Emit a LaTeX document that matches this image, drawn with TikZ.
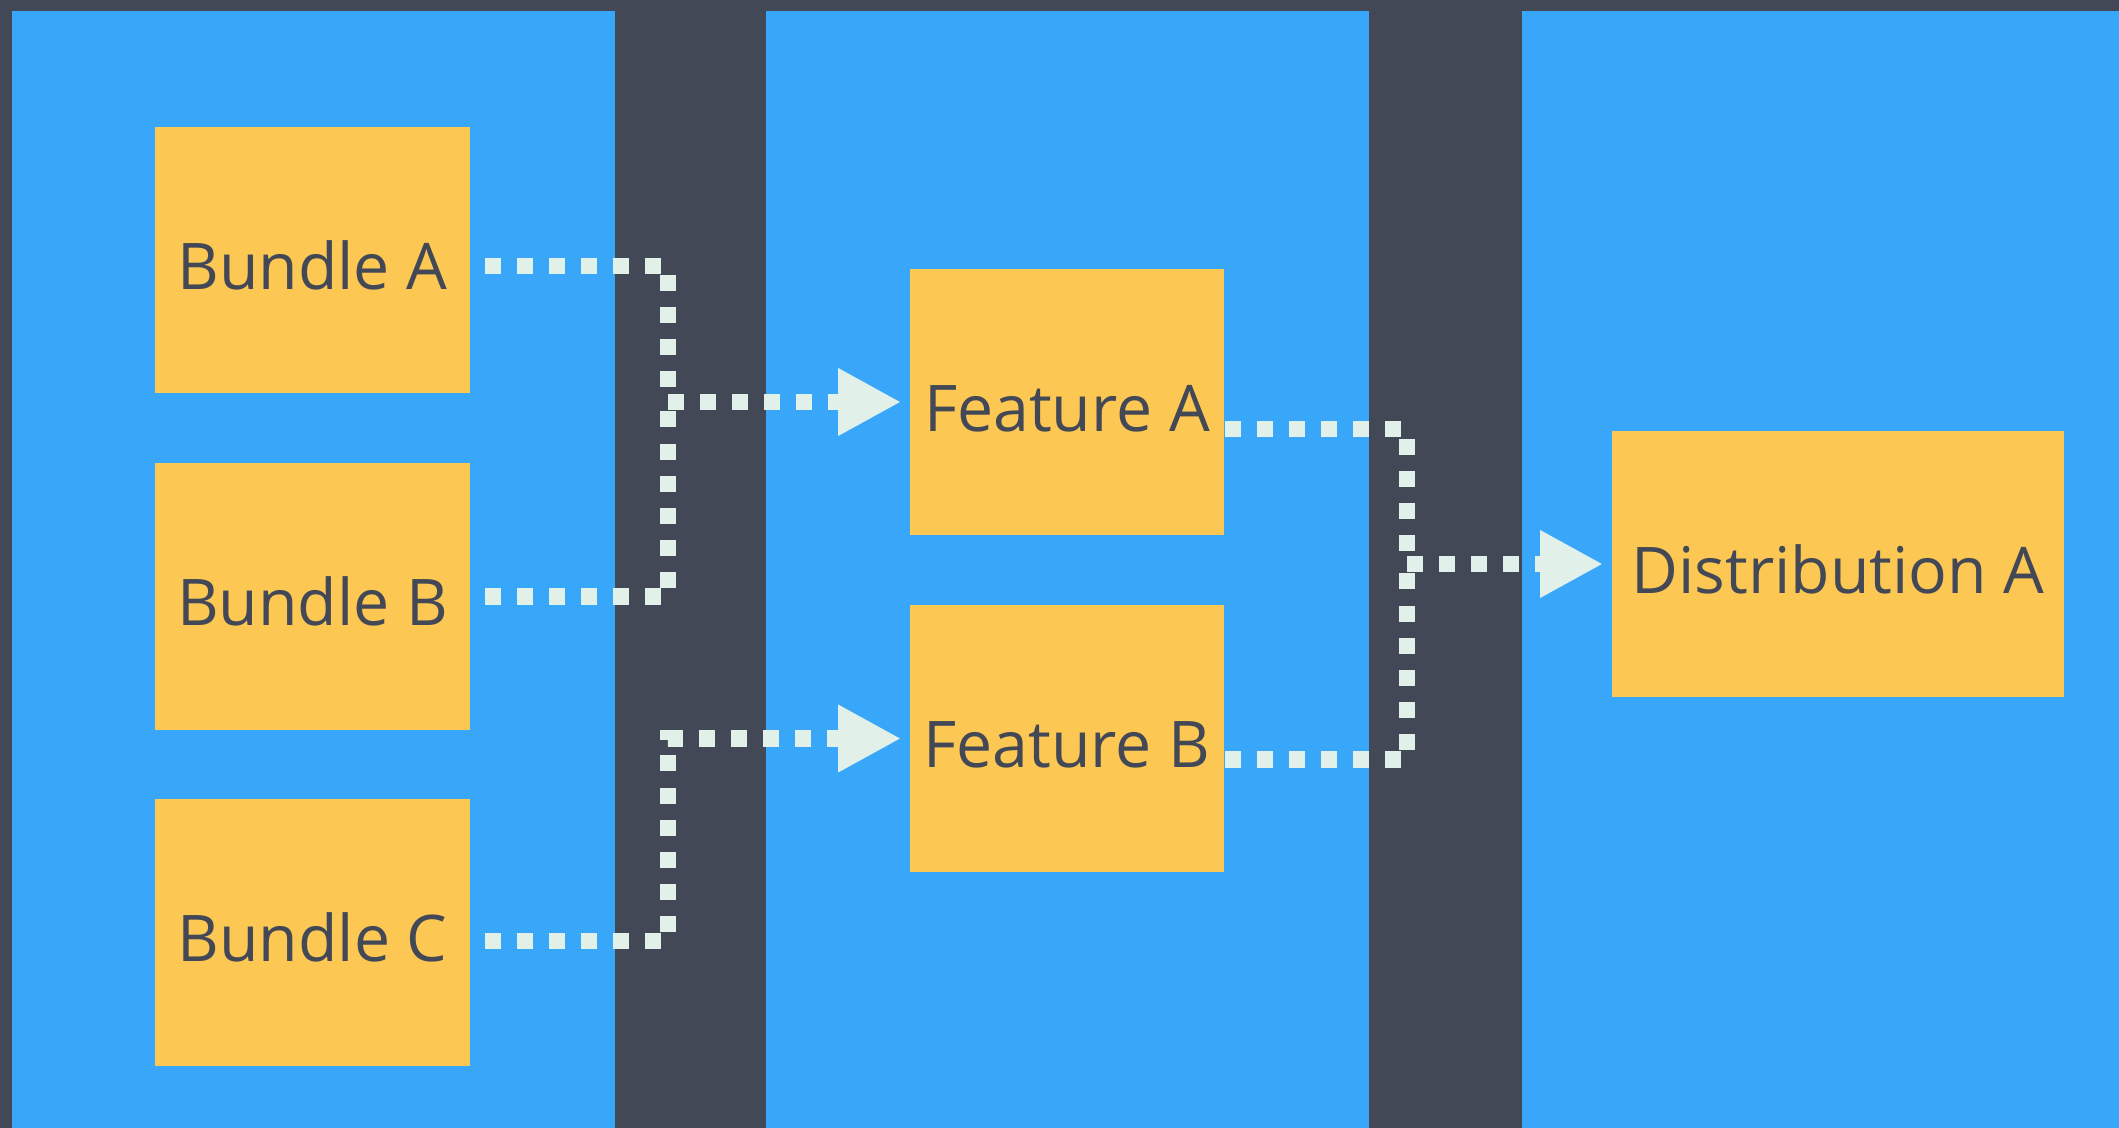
\documentclass[tikz,border=0pt]{standalone}
\usepackage{fontspec}
\setmainfont{Open Sans}
\usepackage{tikz}
\usetikzlibrary{arrows.meta,positioning,calc}

\definecolor{hintergrund}{HTML}{434857}
\definecolor{bahn}{HTML}{38A7FA}
\definecolor{kasten}{HTML}{FCC753}
\definecolor{punktfarbe}{HTML}{E1F0E8}

\begin{document}
\begin{tikzpicture}[x=0.01cm, y=-0.01cm,
	box/.style={fill=kasten, text=hintergrund, minimum height=2.66cm, inner sep=0pt, text height=16.5pt, text depth=0pt, font=\fontsize{18.3}{22}\selectfont},
	punkte/.style={draw=punktfarbe, line width=0.16cm, dash pattern=on 0.16cm off 0.16cm},
	pfeil/.style={-{Triangle[length=0.63cm, width=0.63cm]}, shorten >=0.08cm}]
	\fill[hintergrund] (0,0) rectangle (2119,1128); % dunkler Hintergrund
	
	% Bahnen
	\fill[bahn] (12,11) rectangle (615,1128);
	\fill[bahn] (766,11) rectangle (1369,1128);
	\fill[bahn] (1522,11) rectangle (2119,1128);
	
	\node[box, minimum width=3.15cm] (ba) at (312.5,260) {Bundle A};
	\node[box, minimum width=3.15cm] (bb) at (312.5,596.5) {Bundle B};
	\node[box, minimum width=3.15cm] (bc) at (312.5,932.5) {Bundle C};
	
	\node[box, minimum width=3.14cm] (fa) at (1067,402) {Feature A};
	\node[box, minimum width=3.14cm] (fb) at (1067,738.5) {Feature B};
	
	\node[box, minimum width=4.52cm] (da) at (1838,564) {Distribution A};
	
	\coordinate (j1) at (668,402); % Knoten zwischen Bahn 1 und 2
	\coordinate (j2) at (j1 |- fb.west);
	\coordinate (j3) at (1407,564); % Knoten zwischen Bahn 2 und 3
	
	\draw[punkte] ($(ba.east)+(14,6)$) -| (j1);
	\draw[punkte] ($(bb.east)+(14,0)$) -| (j1);
	\draw[punkte, pfeil] (j1) -- (fa.west);
	\draw[punkte, pfeil] ($(bc.east)+(14,8)$) -| (j2) -- (fb.west);
	
	\draw[punkte] ($(fa.east)+(0,27)$) -| (j3);
	\draw[punkte] ($(fb.east)+(0,21)$) -| (j3);
	\draw[punkte, pfeil] (j3) -- (da.west);
\end{tikzpicture}
\end{document}
